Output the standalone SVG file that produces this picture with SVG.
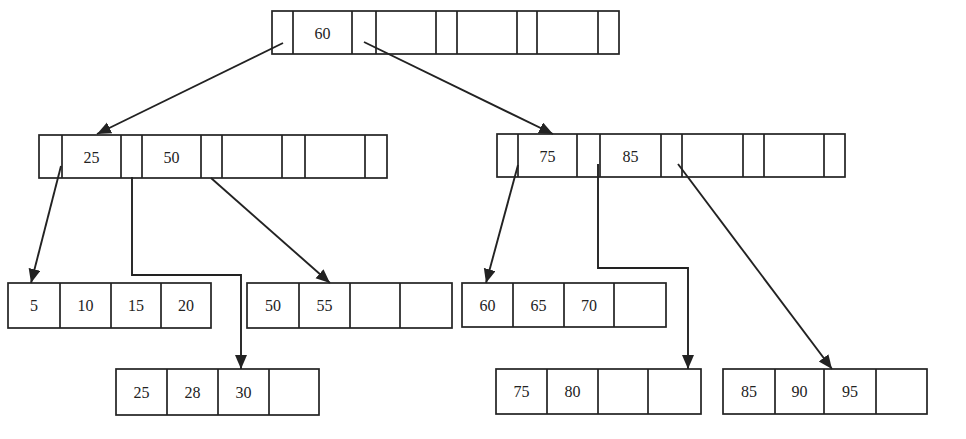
<svg xmlns="http://www.w3.org/2000/svg" width="966" height="439" viewBox="0 0 966 439">
<style>
.box{fill:#fff;stroke:#222;stroke-width:1.7}
.div{stroke:#222;stroke-width:1.7}
.t{font-family:"Liberation Serif","Times New Roman",serif;font-size:16px;fill:#222;text-anchor:middle;dominant-baseline:central}
.c{fill:none;stroke:#222;stroke-width:1.9}
</style>
<defs>
<marker id="arr" markerUnits="userSpaceOnUse" markerWidth="16" markerHeight="14" refX="14" refY="6" orient="auto">
<path d="M0,0 L14,6 L0,12 Z" fill="#222"/>
</marker>
</defs>
<rect width="966" height="439" fill="#fff"/>

<g id="root">
<rect class="box" x="272" y="11" width="347" height="43"/>
<path class="div" d="M293,11V54M352,11V54M376,11V54M436,11V54M457,11V54M517,11V54M537,11V54M598,11V54"/>
<text class="t" x="322.5" y="33">60</text>
</g>

<g id="inner-left">
<rect class="box" x="39" y="135" width="348" height="43"/>
<path class="div" d="M62,135V178M121,135V178M142,135V178M201,135V178M222,135V178M282,135V178M305,135V178M365,135V178"/>
<text class="t" x="91.5" y="157">25</text>
<text class="t" x="171.5" y="157">50</text>
</g>

<g id="inner-right">
<rect class="box" x="497" y="134" width="348" height="43"/>
<path class="div" d="M518,134V177M577,134V177M600,134V177M661,134V177M682,134V177M743,134V177M764,134V177M824,134V177"/>
<text class="t" x="547.5" y="156">75</text>
<text class="t" x="630.5" y="156">85</text>
</g>

<g id="leaf1">
<rect class="box" x="8" y="283" width="203" height="45"/>
<path class="div" d="M60,283V328M111,283V328M161,283V328"/>
<text class="t" x="34" y="305.5">5</text>
<text class="t" x="85.5" y="305.5">10</text>
<text class="t" x="136" y="305.5">15</text>
<text class="t" x="186" y="305.5">20</text>
</g>

<g id="leaf2">
<rect class="box" x="247" y="283" width="205" height="45"/>
<path class="div" d="M299,283V328M350,283V328M400,283V328"/>
<text class="t" x="273" y="305.5">50</text>
<text class="t" x="324.5" y="305.5">55</text>
</g>

<g id="leaf3">
<rect class="box" x="116" y="369" width="203" height="46"/>
<path class="div" d="M167,369V415M218,369V415M269,369V415"/>
<text class="t" x="141.5" y="392">25</text>
<text class="t" x="192.5" y="392">28</text>
<text class="t" x="243.5" y="392">30</text>
</g>

<g id="leaf4">
<rect class="box" x="462" y="283" width="204" height="44"/>
<path class="div" d="M513,283V327M564,283V327M614,283V327"/>
<text class="t" x="487.5" y="305">60</text>
<text class="t" x="538.5" y="305">65</text>
<text class="t" x="589" y="305">70</text>
</g>

<g id="leaf5">
<rect class="box" x="496" y="369" width="205" height="45"/>
<path class="div" d="M547,369V414M598,369V414M648,369V414"/>
<text class="t" x="521.5" y="391.5">75</text>
<text class="t" x="572.5" y="391.5">80</text>
</g>

<g id="leaf6">
<rect class="box" x="723" y="369" width="204" height="45"/>
<path class="div" d="M775,369V414M824,369V414M876,369V414"/>
<text class="t" x="749" y="391.5">85</text>
<text class="t" x="799.5" y="391.5">90</text>
<text class="t" x="850" y="391.5">95</text>
</g>

<g id="connectors">
<path class="c" marker-end="url(#arr)" d="M283,43 L97,134"/>
<path class="c" marker-end="url(#arr)" d="M364,42 L553,134"/>
<path class="c" marker-end="url(#arr)" d="M61,166 L31,283"/>
<path class="c" marker-end="url(#arr)" d="M132,177 V275 H241 V369"/>
<path class="c" marker-end="url(#arr)" d="M211,178 L330,283"/>
<path class="c" marker-end="url(#arr)" d="M518,165 L486,283"/>
<path class="c" marker-end="url(#arr)" d="M598,164 V268 H688 V369"/>
<path class="c" marker-end="url(#arr)" d="M678,164 L832,369"/>
</g>
</svg>
